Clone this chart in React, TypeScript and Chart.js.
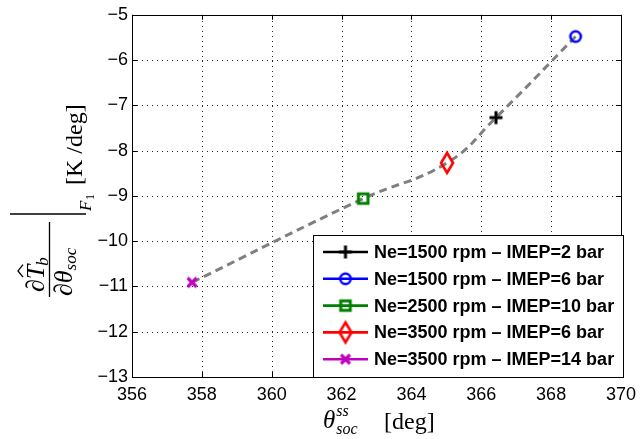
import React, { useEffect, useRef } from "react";
import { Chart, registerables } from "chart.js";

Chart.register(...registerables);

const seriesLabels = [
  "Ne=1500 rpm \u2013 IMEP=2 bar",
  "Ne=1500 rpm \u2013 IMEP=6 bar",
  "Ne=2500 rpm \u2013 IMEP=10 bar",
  "Ne=3500 rpm \u2013 IMEP=6 bar",
  "Ne=3500 rpm \u2013 IMEP=14 bar",
];
const thetaSoc = [366.42, 368.7, 362.62, 365.02, 357.72];
const dTbdTheta = [-7.27, -5.48, -9.06, -8.27, -10.91];
const seriesColors = ["#000000", "#0000ff", "#008000", "#ff0000", "#c000c0"];
const markerKinds = ["plus", "circle", "square", "diamond", "x"];
const xTickValues = [356, 358, 360, 362, 364, 366, 368, 370];
const yTickValues = [-13, -12, -11, -10, -9, -8, -7, -6, -5];

const SANS = '"Liberation Sans", Arial, sans-serif';
const SERIF = '"Liberation Serif", "Times New Roman", serif';

function makeMarker(kind: string, color: string): HTMLCanvasElement {
  const c = document.createElement("canvas");
  const w = 18;
  const h = kind === "diamond" ? 26 : 18;
  c.width = w;
  c.height = h;
  const g = c.getContext("2d")!;
  g.strokeStyle = color;
  g.lineCap = "butt";
  const cx = w / 2;
  const cy = h / 2;
  g.beginPath();
  if (kind === "plus") {
    g.lineWidth = 3;
    g.moveTo(cx - 6.5, cy);
    g.lineTo(cx + 6.5, cy);
    g.moveTo(cx, cy - 6.5);
    g.lineTo(cx, cy + 6.5);
  } else if (kind === "circle") {
    g.lineWidth = 2.6;
    g.arc(cx, cy, 5.2, 0, Math.PI * 2);
  } else if (kind === "square") {
    g.lineWidth = 3;
    g.rect(cx - 4.8, cy - 4.8, 9.6, 9.6);
  } else if (kind === "diamond") {
    g.lineWidth = 2.6;
    g.moveTo(cx, cy - 10);
    g.lineTo(cx + 6, cy);
    g.lineTo(cx, cy + 10);
    g.lineTo(cx - 6, cy);
    g.closePath();
  } else {
    g.lineWidth = 3.2;
    g.moveTo(cx - 4.5, cy - 4.5);
    g.lineTo(cx + 4.5, cy + 4.5);
    g.moveTo(cx + 4.5, cy - 4.5);
    g.lineTo(cx - 4.5, cy + 4.5);
  }
  g.stroke();
  return c;
}

const frame = {
  id: "frame",
  beforeDatasetsDraw(chart: any) {
    const { ctx, chartArea: a, scales } = chart;
    ctx.save();
    ctx.strokeStyle = "#222";
    ctx.lineWidth = 1;
    ctx.setLineDash([1, 4]);
    ctx.beginPath();
    for (const v of xTickValues) {
      const px = Math.round(scales.x.getPixelForValue(v)) + 0.5;
      ctx.moveTo(px, a.bottom);
      ctx.lineTo(px, a.top);
    }
    for (const v of yTickValues) {
      const py = Math.round(scales.y.getPixelForValue(v)) + 0.5;
      ctx.moveTo(a.left, py);
      ctx.lineTo(a.right, py);
    }
    ctx.stroke();
    ctx.restore();
  },
  afterDraw(chart: any) {
    const { ctx, chartArea: a, scales } = chart;
    const xs = scales.x;
    const ys = scales.y;
    ctx.save();
    ctx.strokeStyle = "#000";
    ctx.lineWidth = 1;
    ctx.beginPath();
    const L = 5;
    for (const v of xTickValues) {
      const px = Math.round(xs.getPixelForValue(v)) + 0.5;
      ctx.moveTo(px, a.bottom);
      ctx.lineTo(px, a.bottom - L);
      ctx.moveTo(px, a.top);
      ctx.lineTo(px, a.top + L);
    }
    for (const v of yTickValues) {
      const py = Math.round(ys.getPixelForValue(v)) + 0.5;
      ctx.moveTo(a.left, py);
      ctx.lineTo(a.left + L, py);
      ctx.moveTo(a.right, py);
      ctx.lineTo(a.right - L, py);
    }
    ctx.stroke();
    ctx.strokeRect(Math.round(a.left) + 0.5, Math.round(a.top) + 0.5, Math.round(a.right - a.left), Math.round(a.bottom - a.top));

    // legend
    const lx = 313, ly = 235, lw = 310, lh = 142;
    ctx.fillStyle = "#fff";
    ctx.fillRect(lx, ly, lw, lh);
    ctx.strokeStyle = "#000";
    ctx.lineWidth = 1;
    ctx.strokeRect(lx + 0.5, ly + 0.5, lw, lh);
    ctx.font = "bold 18px " + SANS;
    ctx.textBaseline = "middle";
    ctx.textAlign = "left";
    const markerDatasets = chart.data.datasets.filter((d: any) => d.isMarker);
    markerDatasets.forEach((d: any, i: number) => {
      const cy = 252 + i * 26.8;
      ctx.strokeStyle = d.borderColor;
      ctx.lineWidth = 2.6;
      ctx.beginPath();
      ctx.moveTo(323, cy);
      ctx.lineTo(368, cy);
      ctx.stroke();
      const img: HTMLCanvasElement = d.pointStyle;
      ctx.drawImage(img, 345.5 - img.width / 2, cy - img.height / 2);
      ctx.fillStyle = "#000";
      ctx.fillText(d.label, 374, cy + 1);
    });

    // y title (rotated)
    ctx.fillStyle = "#000";
    ctx.strokeStyle = "#000";
    ctx.save();
    ctx.rotate(-Math.PI / 2);
    ctx.textBaseline = "alphabetic";
    ctx.textAlign = "left";
    const put = (t: string, sy: number, sx: number, font: string) => {
      ctx.font = font;
      ctx.fillText(t, -sy, sx);
      return ctx.measureText(t).width;
    };
    const big = "italic 26px " + SERIF;
    const sub = "italic 17px " + SERIF;
    let s = 292;
    let w = put("\u2202", s, 44, big);
    const tStart = s - w;
    const tw = put("T", tStart, 44, big);
    ctx.lineWidth = 1.3;
    ctx.beginPath();
    ctx.moveTo(-(tStart - 2), 23);
    ctx.lineTo(-(tStart - tw / 2 - 1), 18);
    ctx.lineTo(-(tStart - tw), 23);
    ctx.stroke();
    put("b", tStart - tw + 1, 48, sub);
    ctx.lineWidth = 1.3;
    ctx.beginPath();
    ctx.moveTo(-297, 49.5);
    ctx.lineTo(-222, 49.5);
    ctx.stroke();
    s = 296;
    w = put("\u2202", s, 72, big);
    const thw = put("\u03b8", s - w, 72, big);
    put("soc", s - w - thw, 76, sub);
    ctx.beginPath();
    ctx.moveTo(-214, 10);
    ctx.lineTo(-214, 86);
    ctx.stroke();
    put("F", 211, 91, sub);
    put("1", 200, 94, "12px " + SERIF);
    put("[K /deg]", 185, 82, "24px " + SERIF);
    ctx.restore();

    // x title
    ctx.textBaseline = "alphabetic";
    ctx.textAlign = "left";
    ctx.font = "italic 25px " + SERIF;
    ctx.fillText("\u03b8", 323, 428);
    const thx = 323 + ctx.measureText("\u03b8").width + 1;
    ctx.font = "italic 16px " + SERIF;
    ctx.fillText("ss", thx, 416);
    ctx.fillText("soc", thx, 434);
    ctx.font = "24px " + SERIF;
    ctx.fillText("[deg]", 384, 429);
    ctx.restore();
  },
};

export default function App() {
  const ref = useRef<HTMLCanvasElement>(null);
  useEffect(() => {
    const markerSets = seriesLabels.map((label, i) => ({
      label,
      isMarker: true,
      data: [{ x: thetaSoc[i], y: dTbdTheta[i] }],
      borderColor: seriesColors[i],
      backgroundColor: seriesColors[i],
      pointStyle: makeMarker(markerKinds[i], seriesColors[i]),
      pointRadius: 8,
      showLine: false,
    }));
    const sorted = thetaSoc
      .map((x, i) => ({ x, y: dTbdTheta[i] }))
      .sort((p, q) => p.x - q.x);
    const fitLine = {
      label: "trend",
      isMarker: false,
      data: sorted,
      borderColor: "#808080",
      borderWidth: 3,
      borderDash: [8, 5],
      pointRadius: 0,
      showLine: true,
      tension: 0.45,
      fill: false,
    };
    const chart = new Chart(ref.current!, {
      type: "scatter",
      data: { datasets: [...markerSets, fitLine] as any },
      options: {
        animation: false,
        responsive: true,
        maintainAspectRatio: false,
        layout: { padding: { top: 12, right: 20, left: 0, bottom: 0 } },
        plugins: { legend: { display: false }, tooltip: { enabled: false } },
        scales: {
          x: {
            type: "linear",
            min: 356,
            max: 370,
            afterBuildTicks: (sc: any) => {
              sc.ticks = xTickValues.map((v) => ({ value: v }));
            },
            afterFit: (sc: any) => {
              sc.height = 62;
            },
            ticks: {
              color: "#000",
              font: { family: SANS, size: 18 },
              padding: 7,
              maxRotation: 0,
              callback: (v: any) => String(v),
            },
            grid: { display: false, drawTicks: false },
            border: { display: false },
          },
          y: {
            type: "linear",
            min: -13,
            max: -5,
            afterBuildTicks: (sc: any) => {
              sc.ticks = yTickValues.map((v) => ({ value: v }));
            },
            afterFit: (sc: any) => {
              sc.width = 132;
            },
            ticks: {
              color: "#000",
              font: { family: SANS, size: 18 },
              padding: 4,
              callback: (v: any) => String(v).replace("-", "\u2212"),
            },
            grid: { display: false, drawTicks: false },
            border: { display: false },
          },
        },
      },
      plugins: [frame],
    });
    return () => chart.destroy();
  }, []);
  return (
    <div style={{ position: "fixed", left: 0, top: 0, width: 643, height: 439, background: "#fff" }}>
      <canvas ref={ref} />
    </div>
  );
}
